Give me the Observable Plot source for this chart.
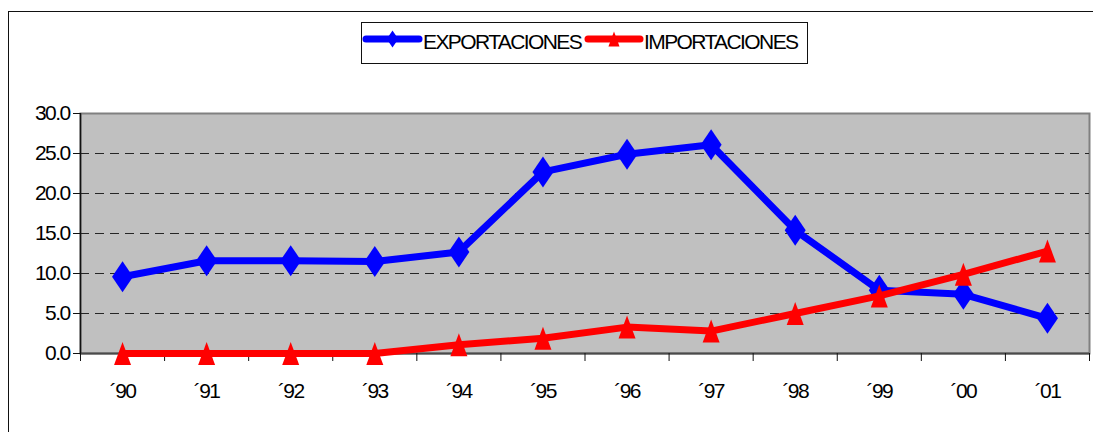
<!DOCTYPE html>
<html>
<head>
<meta charset="utf-8">
<script src="https://cdn.jsdelivr.net/npm/d3@7"></script>
<script src="https://cdn.jsdelivr.net/npm/@observablehq/plot@0.6"></script>
<style>
  html, body { margin: 0; padding: 0; background: #fff; }
  #wrap { position: relative; width: 1093px; height: 432px; overflow: hidden; font-family: "Liberation Sans", Arial, sans-serif; }
  #frame { position: absolute; left: 8px; top: 11px; width: 1200px; height: 500px; border-left: 1.5px solid #111; border-top: 1.5px solid #111; pointer-events: none; }
  #legend { position: absolute; left: 361px; top: 22px; width: 445px; height: 40px; border: 1.3px solid #111; background: #fff; }
  #legend svg { position: absolute; left: 0; top: 0; }
</style>
</head>
<body>
<div id="wrap">
  <div id="chart"></div>
  <div id="frame"></div>
  <div id="legend"></div>
</div>
<script>
// Years on the horizontal axis and their labels
const years = [1990, 1991, 1992, 1993, 1994, 1995, 1996, 1997, 1998, 1999, 2000, 2001];
const yearLabels = ["´90", "´91", "´92", "´93", "´94", "´95", "´96", "´97", "´98", "´99", "´00", "´01"];

// Series values
const exportaciones = [9.6, 11.6, 11.6, 11.5, 12.7, 22.7, 24.9, 26.1, 15.4, 7.9, 7.4, 4.4];
const importaciones = [0.0, 0.0, 0.0, 0.0, 1.1, 1.9, 3.3, 2.8, 5.0, 7.2, 9.9, 12.8];

// Y axis ticks
const yTicks = [0, 5, 10, 15, 20, 25, 30];
const gridTicks = [5, 10, 15, 20, 25];

// Series names
const seriesNames = ["EXPORTACIONES", "IMPORTACIONES"];
const seriesColors = ["#0000ff", "#ff0000"];

const labelOf = new Map(years.map((y, i) => [y, yearLabels[i]]));
const boundaries = d3.range(years[0] - 0.5, years[years.length - 1] + 1, 1);

const expData = years.map((year, i) => ({year, value: exportaciones[i]}));
const impData = years.map((year, i) => ({year, value: importaciones[i]}));

const FONT = "'Liberation Sans', Arial, sans-serif";
const FONT_SIZE = 21;
const TRACKING = "-1.6px";

// Tall diamond and triangle markers
const tallDiamond = {
  draw(ctx, size) {
    const r = Math.sqrt(size / Math.PI);
    const w = r * 1.05, h = r * 1.55;
    ctx.moveTo(0, -h); ctx.lineTo(w, 0); ctx.lineTo(0, h); ctx.lineTo(-w, 0); ctx.closePath();
  }
};
const tallTriangle = {
  draw(ctx, size) {
    const r = Math.sqrt(size / Math.PI);
    const w = r * 0.85, h = r * 1.15;
    ctx.moveTo(0, -h); ctx.lineTo(w, h); ctx.lineTo(-w, h); ctx.closePath();
  }
};

const chart = Plot.plot({
  width: 1093,
  height: 432,
  marginLeft: 80,
  marginRight: 4,
  marginTop: 113,
  marginBottom: 79,
  style: {fontFamily: FONT, fontSize: FONT_SIZE + "px", letterSpacing: TRACKING, color: "#000", background: "transparent", overflow: "visible"},
  x: {type: "linear", domain: [years[0] - 0.5, years[years.length - 1] + 0.5], label: null},
  y: {domain: [0, 30], label: null},
  marks: [
    Plot.frame({fill: "#c0c0c0", stroke: "#808080", strokeWidth: 2}),
    Plot.ruleY(gridTicks, {stroke: "#262626", strokeWidth: 1, strokeDasharray: "9,6"}),
    Plot.ruleY([0], {stroke: "#4a4a4a", strokeWidth: 2}),
    Plot.ruleX([years[0] - 0.5], {stroke: "#111", strokeWidth: 1.5}),
    Plot.axisY({ticks: yTicks, tickFormat: d => d.toFixed(1), tickSize: 7, tickPadding: 4, stroke: "#111", fontSize: FONT_SIZE, label: null}),
    Plot.axisX({ticks: boundaries, tickFormat: () => "", tickSize: 8, stroke: "#111", label: null}),
    Plot.axisX({ticks: years, tickFormat: d => labelOf.get(d), tickSize: 0, tickPadding: 30, fontSize: FONT_SIZE, label: null}),
    Plot.line(expData, {x: "year", y: "value", stroke: seriesColors[0], strokeWidth: 7, strokeLinejoin: "round", strokeLinecap: "round"}),
    Plot.dot(expData, {x: "year", y: "value", symbol: tallDiamond, r: 10, fill: seriesColors[0], stroke: "none"}),
    Plot.line(impData, {x: "year", y: "value", stroke: seriesColors[1], strokeWidth: 7, strokeLinejoin: "round", strokeLinecap: "round"}),
    Plot.dot(impData, {x: "year", y: "value", symbol: tallTriangle, r: 10, fill: seriesColors[1], stroke: "none"})
  ]
});
document.getElementById("chart").appendChild(chart);

// Legend: line sample with marker, then series name
const legend = d3.select("#legend").append("svg").attr("width", 445).attr("height", 40);
const entries = [
  {x0: 4, x1: 57, tx: 61, name: seriesNames[0], color: seriesColors[0], sym: tallDiamond, r: 5.5},
  {x0: 226, x1: 278, tx: 282, name: seriesNames[1], color: seriesColors[1], sym: tallTriangle, r: 6.5}
];
for (const e of entries) {
  legend.append("line").attr("x1", e.x0).attr("x2", e.x1).attr("y1", 16).attr("y2", 16)
    .attr("stroke", e.color).attr("stroke-width", 7).attr("stroke-linecap", "round");
  legend.append("path").attr("d", d3.symbol(e.sym, Math.PI * e.r * e.r)())
    .attr("transform", `translate(${(e.x0 + e.x1) / 2},16)`).attr("fill", e.color);
  legend.append("text").attr("x", e.tx).attr("y", 26).text(e.name)
    .attr("font-family", FONT).attr("font-size", FONT_SIZE)
    .attr("letter-spacing", TRACKING).attr("fill", "#000");
}
</script>
</body>
</html>
